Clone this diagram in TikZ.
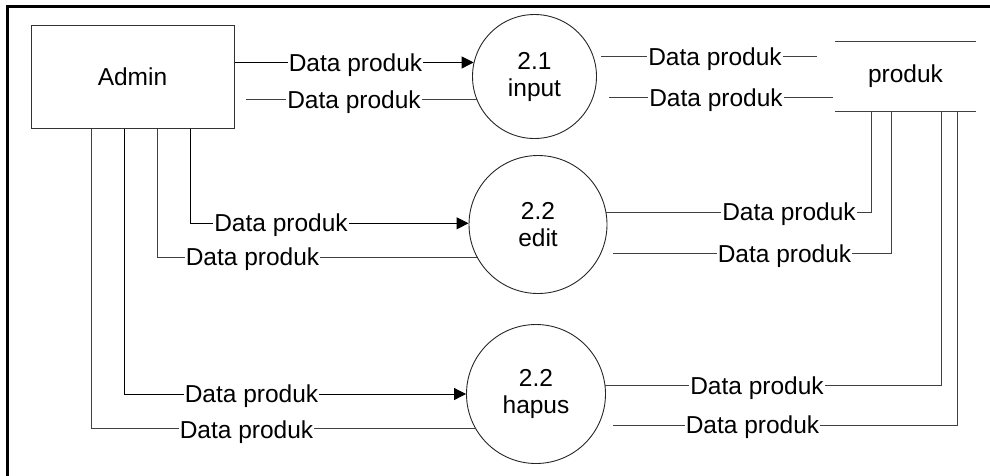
\documentclass[tikz,border=0pt]{standalone}
\usepackage{fontspec}
\setmainfont{Liberation Sans}
\usetikzlibrary{arrows.meta}
\begin{document}
\begin{tikzpicture}[x=1pt,y=-1pt,
  txt/.style={font=\fontsize{24.5}{27}\selectfont},
  ent/.style={txt, draw=black!80, line width=1pt, minimum width=203pt, minimum height=103pt, inner sep=0pt},
  proc/.style={txt, circle, draw=black!85, line width=0.9pt, inner sep=0pt, align=center},
  store/.style={txt, minimum width=141pt, minimum height=69pt, inner sep=0pt},
  flow/.style={draw=black!75, line width=1pt},
  arr/.style={draw=black, line width=1pt, -{Triangle[length=12pt,width=12pt]}},
  lbl/.style={txt, fill=white, inner xsep=1pt, inner ysep=0pt, anchor=base}]
\useasboundingbox (0,0) rectangle (990,475);
% frame
\draw[line width=3pt] (7,477) -- (7,6) -- (992,6);
% nodes
\node[ent] (admin) at (132.5,76.5) {Admin};
\node[proc, minimum size=124pt] (p1) at (534.5,76.5) {2.1\\input};
\node[proc, minimum size=138pt] (p2) at (538,224.5) {2.2\\edit};
\node[proc, minimum size=139pt] (p3) at (536,394) {2.2\\hapus};
\node[store] (st) at (905.5,76.5) {produk};
\draw[flow] (st.north west) -- (st.north east);
\draw[flow] (st.south west) -- (st.south east);
% helper coordinates
\coordinate (xb1) at (190,0);
\coordinate (xb2) at (157,0);
\coordinate (xc1) at (124,0);
\coordinate (xc2) at (91,0);
\coordinate (xe1) at (871,0);
\coordinate (xe2) at (891,0);
\coordinate (xf1) at (941,0);
\coordinate (xf2) at (957,0);
\coordinate (a2end) at (246,100);
\coordinate (d1s) at (601,56.7);
\coordinate (d1e) at (817,56.7);
\coordinate (d2s) at (609,97.7);
\coordinate (d2e) at (833,97.7);
\coordinate (e2s) at (613,253.3);
\coordinate (f2s) at (613,425);
% connectors
\draw[arr] (admin.east |- p1.167) -- (p1.167);
\draw[flow] (p1.202) -- (a2end |- p1.202);
\draw[arr] (admin.south -| xb1) |- (p2.179);
\draw[flow] (p2.208) -| (admin.south -| xb2);
\draw[arr] (admin.south -| xc1) |- (p3.180);
\draw[flow] (p3.210) -| (admin.south -| xc2);
\draw[flow] (d1s) -- (d1e);
\draw[flow] (d2s) -- (d2e);
\draw[flow] (p2.10) -| (st.south -| xe1);
\draw[flow] (e2s) -| (st.south -| xe2);
\draw[flow] (p3.7) -| (st.south -| xf1);
\draw[flow] (f2s) -| (st.south -| xf2);
% labels
\node[lbl] (la1) at (355.5,71.3) {Data produk};
\node[lbl] (la2) at (354,108.7) {Data produk};
\node[lbl] (lb1) at (281,231.4) {Data produk};
\node[lbl] (lb2) at (252.5,265.4) {Data produk};
\node[lbl] (lc1) at (251.5,402.7) {Data produk};
\node[lbl] (lc2) at (246.5,438) {Data produk};
\node[lbl] (ld1) at (715,65.4) {Data produk};
\node[lbl] (ld2) at (716,106.4) {Data produk};
\node[lbl] (le1) at (789,220.4) {Data produk};
\node[lbl] (le2) at (784.5,262) {Data produk};
\node[lbl] (lf1) at (757,394.4) {Data produk};
\node[lbl] (lf2) at (752.5,433.7) {Data produk};
\end{tikzpicture}
\end{document}
